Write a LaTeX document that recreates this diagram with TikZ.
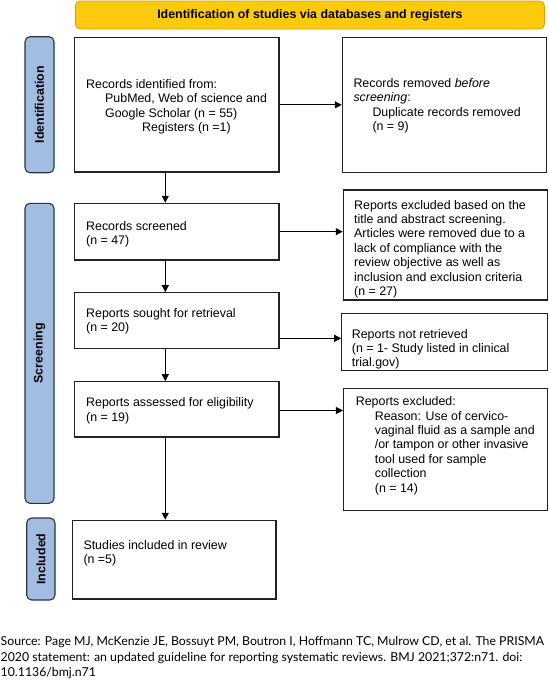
\documentclass[tikz,border=0pt]{standalone}
\usepackage{fontspec}
\setmainfont{Liberation Sans}
\newfontfamily\srcfont{Lato}
\usetikzlibrary{arrows.meta}
\definecolor{gold}{HTML}{FFC90E}
\definecolor{goldedge}{HTML}{D9A400}
\definecolor{phase}{HTML}{A3BCE2}
\definecolor{phaseedge}{HTML}{2B3442}
\definecolor{edge}{HTML}{222222}
\tikzset{
  box/.style={draw=edge, line width=1.1pt, rectangle, inner sep=0pt},
  banner/.style={draw=goldedge, fill=gold, line width=0.9pt, rounded corners=5pt, inner sep=0pt,
    font=\fontsize{12.4}{14.4}\selectfont\bfseries},
  phasebox/.style={draw=phaseedge, fill=phase, line width=1.1pt, rounded corners=5pt, inner sep=0pt,
    rotate=90, font=\fontsize{12.4}{14.4}\selectfont\bfseries},
  txt/.style={inner sep=0pt, align=left, anchor=base west, font=\fontsize{12.4}{14.4}\selectfont},
  src/.style={inner sep=0pt, align=left, anchor=base west, font=\srcfont\fontsize{12.3}{15.6}\selectfont},
  arr/.style={draw=black, line width=1.1pt, -{Triangle[length=7pt,width=7pt]}}
}
\begin{document}
\begin{tikzpicture}[x=1pt,y=-1pt]
\useasboundingbox (0,0) rectangle (549,681);

% banner
\node[banner, minimum width=469.2pt, minimum height=28pt] (ban) at (309.9,15) {Identification of studies via databases and registers};

% phase labels
\node[phasebox, minimum width=136pt, minimum height=29pt] (idl) at (39.5,104.7) {Identification};
\node[phasebox, minimum width=300pt, minimum height=29pt] (scl) at (39.5,353.3) {Screening};
\node[phasebox, minimum width=82pt, minimum height=28.3pt] (inl) at (40.85,559) {Included};

% boxes
\node[box, minimum width=204.7pt, minimum height=134.3pt] (b1) at (176.65,104.85) {};
\node[box, minimum width=204.2pt, minimum height=134.6pt] (b2) at (444.4,105) {};
\node[box, minimum width=204.7pt, minimum height=56.7pt] (scr) at (176.65,231.65) {};
\node[box, minimum width=204.7pt, minimum height=55.6pt] (sou) at (176.65,320.5) {};
\node[box, minimum width=204.7pt, minimum height=55.3pt] (eli) at (176.65,409.35) {};
\node[box, minimum width=203.3pt, minimum height=78.7pt] (inc) at (174.35,559.65) {};
\node[box, minimum width=204pt, minimum height=110pt] (ex1) at (445.3,245) {};
\node[box, minimum width=205.6pt, minimum height=57.4pt] (nr) at (444.5,342) {};
\node[box, minimum width=204pt, minimum height=122pt] (ex2) at (445.5,449.3) {};

% texts (anchored at the baseline of their last line)
\node[txt] (t1) at (86,131.5) {Records identified from:\\\hspace*{19pt}PubMed, Web of science and\\\hspace*{19pt}Google Scholar (n = 55)\\\hspace*{56pt}Registers (n =1)};
\node[txt] (t2) at (353.3,130.7) {Records removed \textit{before}\\\textit{screening}:\\\hspace*{19pt}Duplicate records removed\\\hspace*{19pt}(n = 9)};
\node[txt] (t3) at (86,244.4) {Records screened\\(n = 47)};
\node[txt] (t4) at (86,331.9) {Reports sought for retrieval\\(n = 20)};
\node[txt] (t5) at (86,421.2) {Reports assessed for eligibility\\(n = 19)};
\node[txt] (t6) at (83.3,563.4) {Studies included in review\\(n =5)};
\node[txt] (t7) at (354,295.4) {Reports excluded based on the\\title and abstract screening.\\Articles were removed due to a\\lack of compliance with the\\review objective as well as\\inclusion and exclusion criteria\\(n = 27)};
\node[txt] (t8) at (351.7,366.8) {Reports not retrieved\\(n = 1- Study listed in clinical\\trial.gov)};
\node[txt] (t9) at (355.7,492.1) {Reports excluded:\\\hspace*{19pt}Reason: Use of cervico-\\\hspace*{19pt}vaginal fluid as a sample and\\\hspace*{19pt}/or tampon or other invasive\\\hspace*{19pt}tool used for sample\\\hspace*{19pt}collection\\\hspace*{19pt}(n = 14)};

% source
\node[src] (source) at (0.5,676.9) {Source: Page MJ, McKenzie JE, Bossuyt PM, Boutron I, Hoffmann TC, Mulrow CD, et al. The PRISMA\\2020 statement: an updated guideline for reporting systematic reviews. BMJ 2021;372:n71. doi:\\10.1136/bmj.n71};

% connectors
\coordinate (cx) at (165.3,0);
\coordinate (ny) at (0,338.3);
\coordinate (ey) at (0,410.5);
\draw[arr] (b1.east) -- (b1.east -| b2.west);
\draw[arr] (b1.south -| cx) -- (scr.north -| cx);
\draw[arr] (scr.south -| cx) -- (sou.north -| cx);
\draw[arr] (sou.south -| cx) -- (eli.north -| cx);
\draw[arr] (eli.south -| cx) -- (inc.north -| cx);
\draw[arr] (scr.east) -- (scr.east -| ex1.west);
\draw[arr] (sou.east |- ny) -- (nr.west |- ny);
\draw[arr] (eli.east |- ey) -- (ex2.west |- ey);
\end{tikzpicture}
\end{document}
